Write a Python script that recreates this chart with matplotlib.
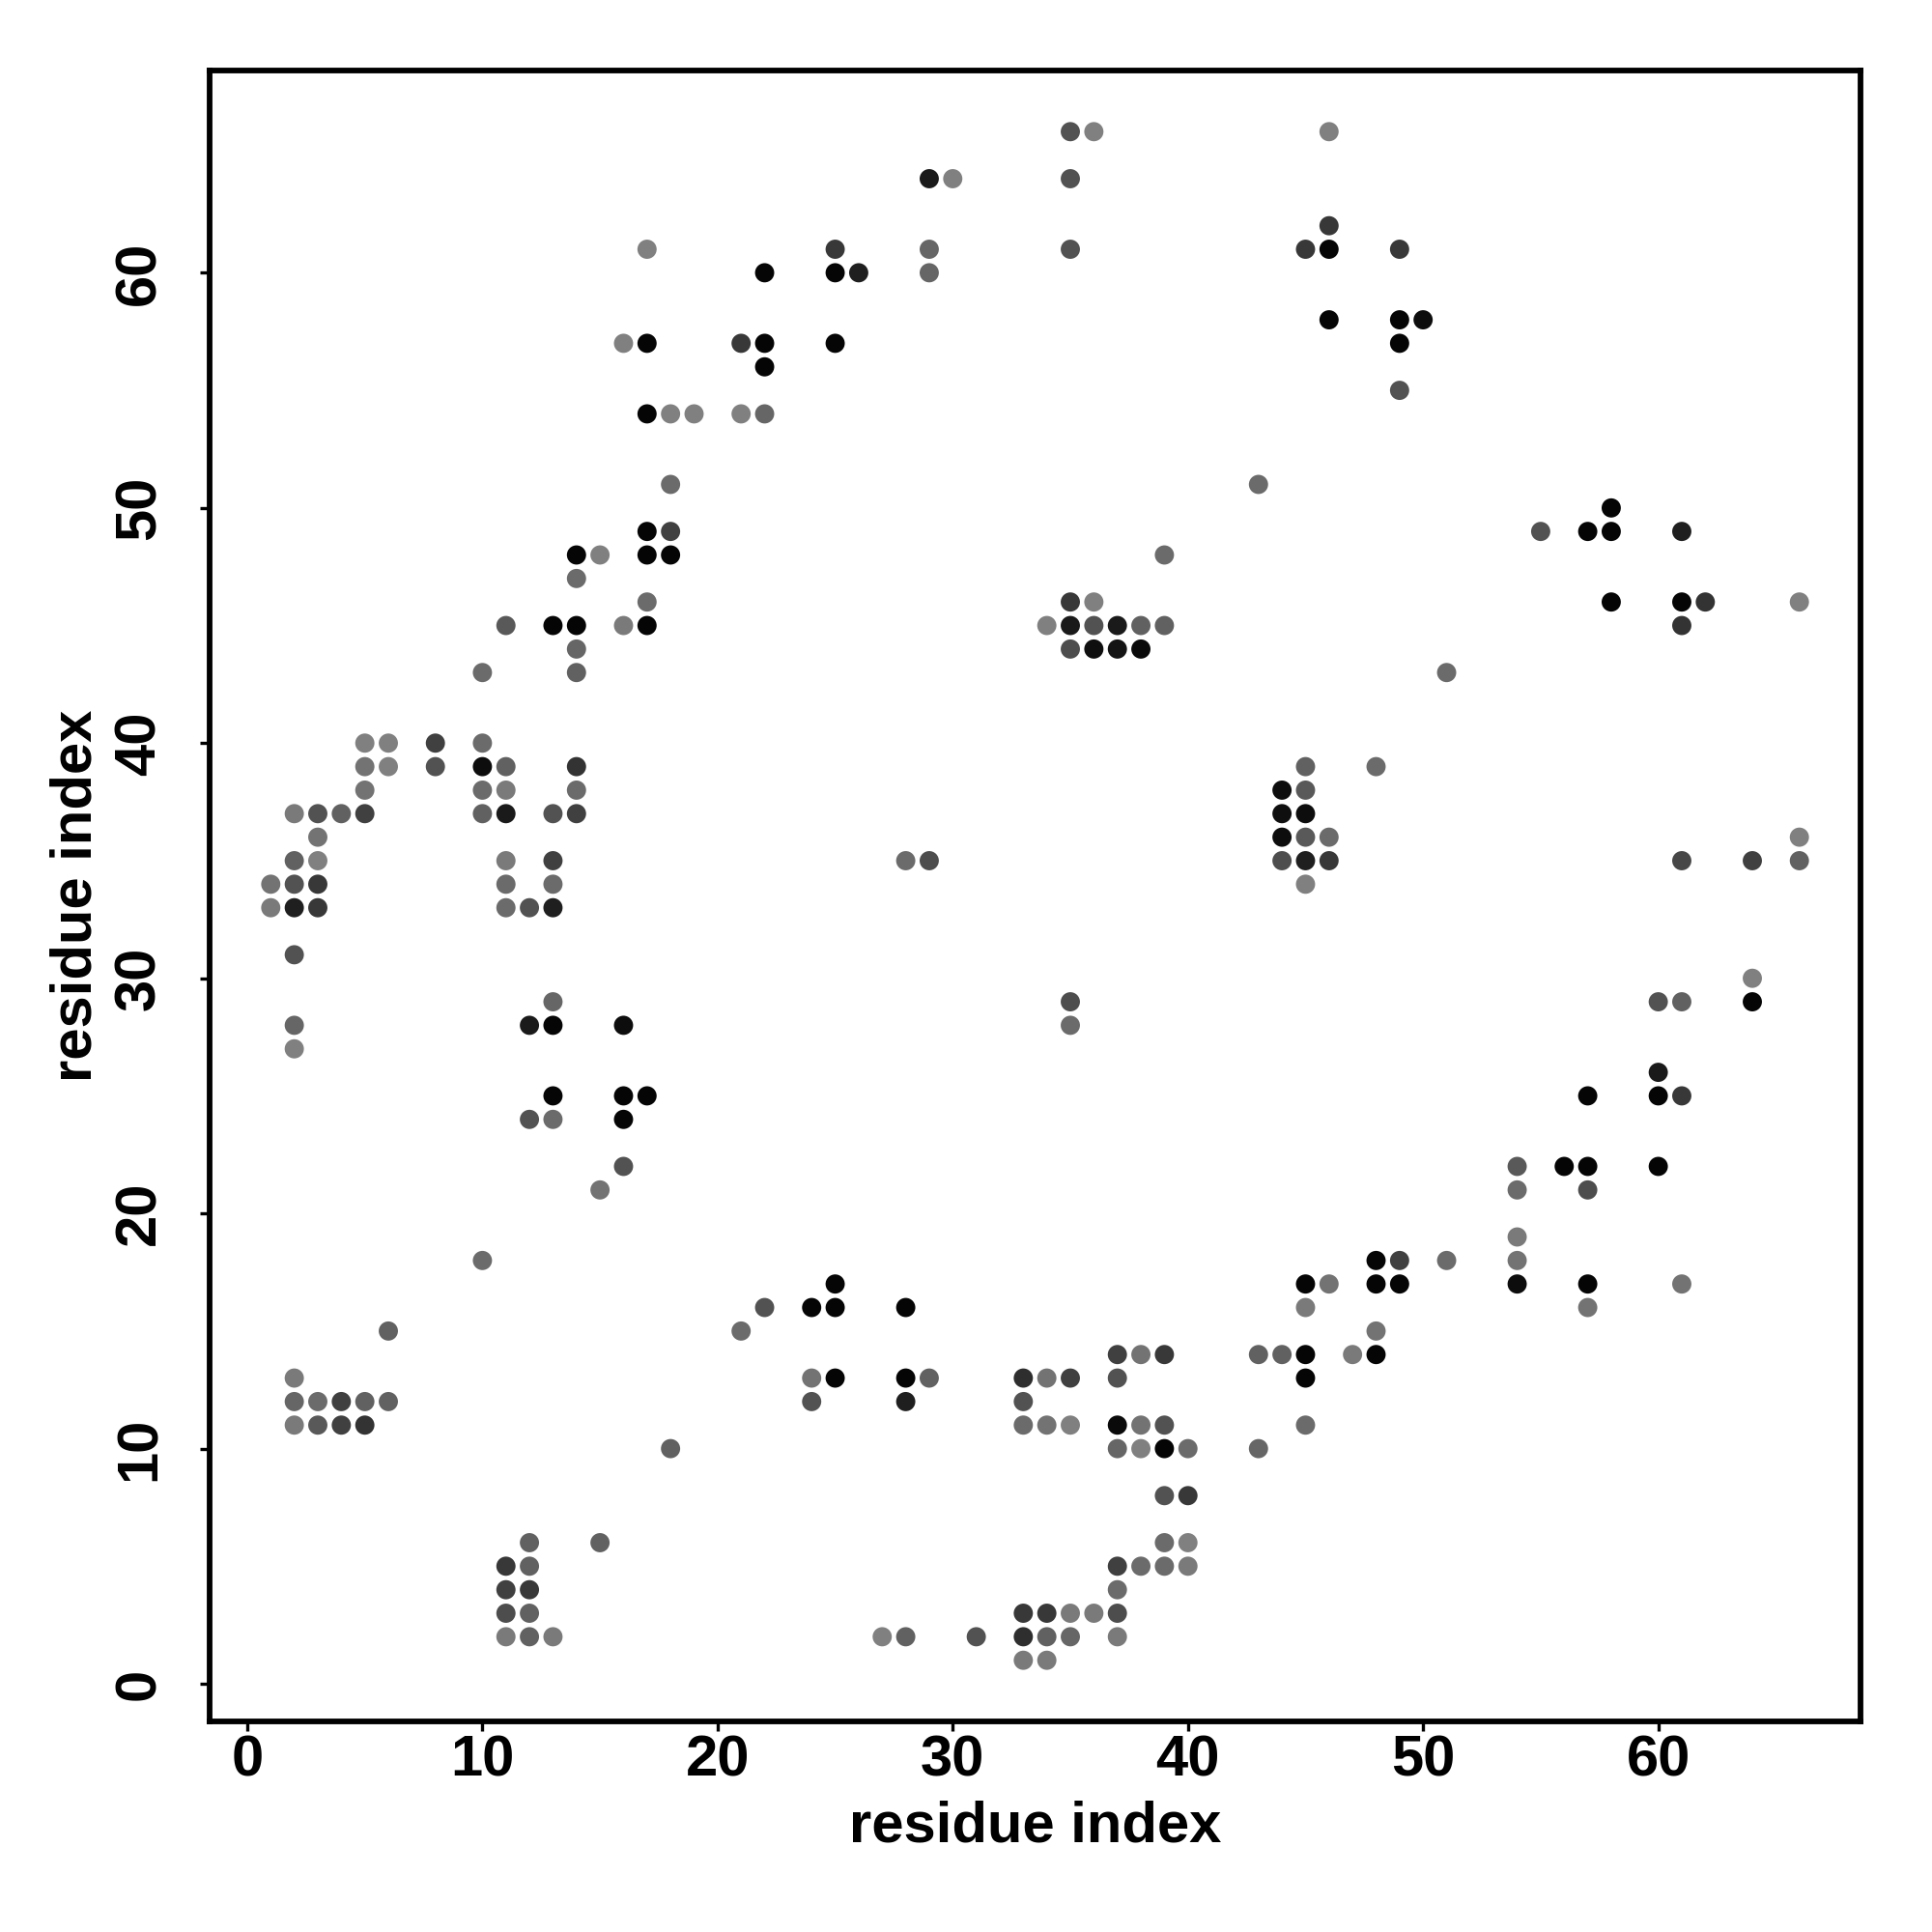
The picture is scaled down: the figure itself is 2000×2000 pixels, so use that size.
import matplotlib
matplotlib.use('Agg')
import matplotlib.pyplot as plt
import numpy as np

# contact positions (residue i, residue j) and grey level of each dot (0 = black)
res_x = [35, 36, 46,
         29, 30, 35,
         46,
         17, 25, 29, 35, 45, 46, 49,
         22, 25, 26, 29,
         46, 49, 50,
         16, 17, 21, 22, 25, 49,
         22,
         49,
         17, 18, 19, 21, 22,
         18, 43,
         58,
         17, 18, 55, 57, 58, 61,
         14, 15, 17, 18, 39,
         14,
         17, 35, 36, 58, 61, 62, 66,
         11, 13, 14, 16, 17, 34, 35, 36, 37, 38, 39, 61,
         14, 35, 36, 37, 38,
         10, 14, 51,
         5, 6, 8, 10,
         5, 6, 8, 10, 11, 14, 45, 48,
         5, 10, 11, 14, 44, 45,
         2, 3, 4, 5, 10, 11, 13, 14, 44, 45,
         3, 44, 45, 46, 66,
         2, 3, 11, 13, 28, 29, 44, 45, 46, 61, 64, 66,
         1, 2, 3, 11, 13, 45,
         1, 2, 3, 11, 12, 13,
         2,
         64,
         13, 35, 60, 61, 64,
         2, 12, 13, 16, 35,
         2,
         60,
         13, 16, 17, 57, 60, 61,
         12, 13, 16,
         16, 54, 56, 57, 60,
         15, 54, 57,
         54,
         10, 48, 49, 51, 54,
         25, 45, 46, 48, 49, 54, 57, 61,
         22, 24, 25, 28, 45, 57,
         6, 21, 48,
         37, 38, 39, 43, 44, 45, 47, 48,
         2, 24, 25, 28, 29, 33, 34, 35, 37, 45,
         2, 3, 4, 5, 6, 24, 28, 33,
         2, 3, 4, 5, 33, 34, 35, 37, 38, 39, 45,
         18, 37, 38, 39, 40, 43,
         39, 40,
         12, 15, 39, 40,
         11, 12, 37, 38, 39, 40,
         11, 12, 37,
         11, 12, 33, 34, 35, 36, 37,
         11, 12, 13, 27, 28, 31, 33, 34, 35, 37,
         33, 34]

res_y = [66, 66, 66,
         64, 64, 64,
         62,
         61, 61, 61, 61, 61, 61, 61,
         60, 60, 60, 60,
         58, 58, 58,
         57, 57, 57, 57, 57, 57,
         56,
         55,
         54, 54, 54, 54, 54,
         51, 51,
         50,
         49, 49, 49, 49, 49, 49,
         48, 48, 48, 48, 48,
         47,
         46, 46, 46, 46, 46, 46, 46,
         45, 45, 45, 45, 45, 45, 45, 45, 45, 45, 45, 45,
         44, 44, 44, 44, 44,
         43, 43, 43,
         40, 40, 40, 40,
         39, 39, 39, 39, 39, 39, 39, 39,
         38, 38, 38, 38, 38, 38,
         37, 37, 37, 37, 37, 37, 37, 37, 37, 37,
         36, 36, 36, 36, 36,
         35, 35, 35, 35, 35, 35, 35, 35, 35, 35, 35, 35,
         34, 34, 34, 34, 34, 34,
         33, 33, 33, 33, 33, 33,
         31,
         30,
         29, 29, 29, 29, 29,
         28, 28, 28, 28, 28,
         27,
         26,
         25, 25, 25, 25, 25, 25,
         24, 24, 24,
         22, 22, 22, 22, 22,
         21, 21, 21,
         19,
         18, 18, 18, 18, 18,
         17, 17, 17, 17, 17, 17, 17, 17,
         16, 16, 16, 16, 16, 16,
         15, 15, 15,
         14, 14, 14, 14, 14, 14, 14, 14,
         13, 13, 13, 13, 13, 13, 13, 13, 13, 13,
         12, 12, 12, 12, 12, 12, 12, 12,
         11, 11, 11, 11, 11, 11, 11, 11, 11, 11, 11,
         10, 10, 10, 10, 10, 10,
         8, 8,
         6, 6, 6, 6,
         5, 5, 5, 5, 5, 5,
         4, 4, 4,
         3, 3, 3, 3, 3, 3, 3,
         2, 2, 2, 2, 2, 2, 2, 2, 2, 2,
         1, 1]

gray = [0.32, 0.50, 0.50,
        0.10, 0.50, 0.32,
        0.22,
        0.50, 0.22, 0.40, 0.32, 0.22, 0.02, 0.22,
        0.02, 0.02, 0.12, 0.40,
        0.02, 0.02, 0.05,
        0.50, 0.02, 0.22, 0.02, 0.02, 0.02,
        0.02,
        0.32,
        0.02, 0.50, 0.50, 0.50, 0.40,
        0.42, 0.42,
        0.02,
        0.02, 0.25, 0.32, 0.02, 0.02, 0.12,
        0.02, 0.50, 0.02, 0.02, 0.42,
        0.42,
        0.42, 0.22, 0.50, 0.02, 0.02, 0.20, 0.50,
        0.35, 0.02, 0.02, 0.48, 0.02, 0.50, 0.10, 0.32, 0.10, 0.38, 0.38, 0.20,
        0.40, 0.30, 0.06, 0.08, 0.04,
        0.42, 0.38, 0.42,
        0.50, 0.50, 0.25, 0.42,
        0.45, 0.50, 0.32, 0.05, 0.38, 0.20, 0.38, 0.42,
        0.45, 0.42, 0.48, 0.42, 0.05, 0.35,
        0.48, 0.32, 0.38, 0.25, 0.38, 0.10, 0.32, 0.25, 0.06, 0.05,
        0.45, 0.05, 0.35, 0.42, 0.50,
        0.38, 0.50, 0.48, 0.25, 0.42, 0.30, 0.30, 0.12, 0.22, 0.28, 0.25, 0.38,
        0.45, 0.32, 0.22, 0.42, 0.42, 0.50,
        0.48, 0.12, 0.22, 0.42, 0.32, 0.12,
        0.32,
        0.50,
        0.40, 0.30, 0.32, 0.38, 0.02,
        0.40, 0.10, 0.02, 0.05, 0.42,
        0.50,
        0.10,
        0.02, 0.02, 0.02, 0.02, 0.02, 0.22,
        0.32, 0.42, 0.02,
        0.32, 0.35, 0.02, 0.02, 0.02,
        0.45, 0.42, 0.30,
        0.48,
        0.42, 0.02, 0.25, 0.42, 0.45,
        0.02, 0.02, 0.45, 0.02, 0.02, 0.05, 0.02, 0.45,
        0.32, 0.02, 0.02, 0.02, 0.48, 0.45,
        0.38, 0.42, 0.45,
        0.25, 0.45, 0.22, 0.38, 0.38, 0.02, 0.48, 0.02,
        0.48, 0.45, 0.02, 0.02, 0.38, 0.18, 0.45, 0.25, 0.32, 0.02,
        0.40, 0.42, 0.25, 0.38, 0.38, 0.32, 0.12, 0.32,
        0.48, 0.35, 0.25, 0.20, 0.42, 0.45, 0.50, 0.04, 0.45, 0.32, 0.42,
        0.38, 0.40, 0.50, 0.02, 0.42, 0.40,
        0.32, 0.22,
        0.38, 0.38, 0.42, 0.50,
        0.22, 0.38, 0.25, 0.42, 0.42, 0.48,
        0.25, 0.22, 0.42,
        0.30, 0.38, 0.22, 0.22, 0.48, 0.48, 0.30,
        0.48, 0.38, 0.48, 0.50, 0.38, 0.32, 0.18, 0.38, 0.40, 0.48,
        0.48, 0.48]

x_ticks = [0, 10, 20, 30, 40, 50, 60]
y_ticks = [0, 10, 20, 30, 40, 50, 60]
axis_label = 'residue index'

plt.rcParams['font.family'] = ['Liberation Sans', 'DejaVu Sans']
plt.rcParams['font.weight'] = 'bold'

fig = plt.figure(figsize=(20, 20), dpi=100)
ax = fig.add_axes([0.1085, 0.109, 0.963 - 0.1085, 0.9635 - 0.109])

colors = [(g, g, g) for g in gray]
ax.scatter(res_x, res_y, s=205, c=colors, linewidths=0, zorder=3)

ax.set_xlim(-1.6, 68.6)
ax.set_ylim(-1.6, 68.6)
ax.set_xticks(x_ticks)
ax.set_yticks(y_ticks)
ax.set_xticklabels([str(t) for t in x_ticks], fontsize=43, fontweight='bold')
ax.set_yticklabels([str(t) for t in y_ticks], fontsize=43, fontweight='bold',
                   rotation=90, va='center')

for sp in ax.spines.values():
    sp.set_linewidth(4.2)
    sp.set_color('black')

ax.tick_params(axis='both', direction='out', length=7, width=2.4, color='black')
ax.tick_params(axis='x', pad=3)
ax.tick_params(axis='y', pad=25)

ax.set_xlabel(axis_label, fontsize=43, fontweight='bold', va='center')
ax.set_ylabel(axis_label, fontsize=43, fontweight='bold', va='center')
ax.xaxis.set_label_coords(0.5, -0.064)
ax.yaxis.set_label_coords(-0.0807, 0.5)

fig.savefig('out.png', dpi=100, facecolor='white')
plt.close(fig)
